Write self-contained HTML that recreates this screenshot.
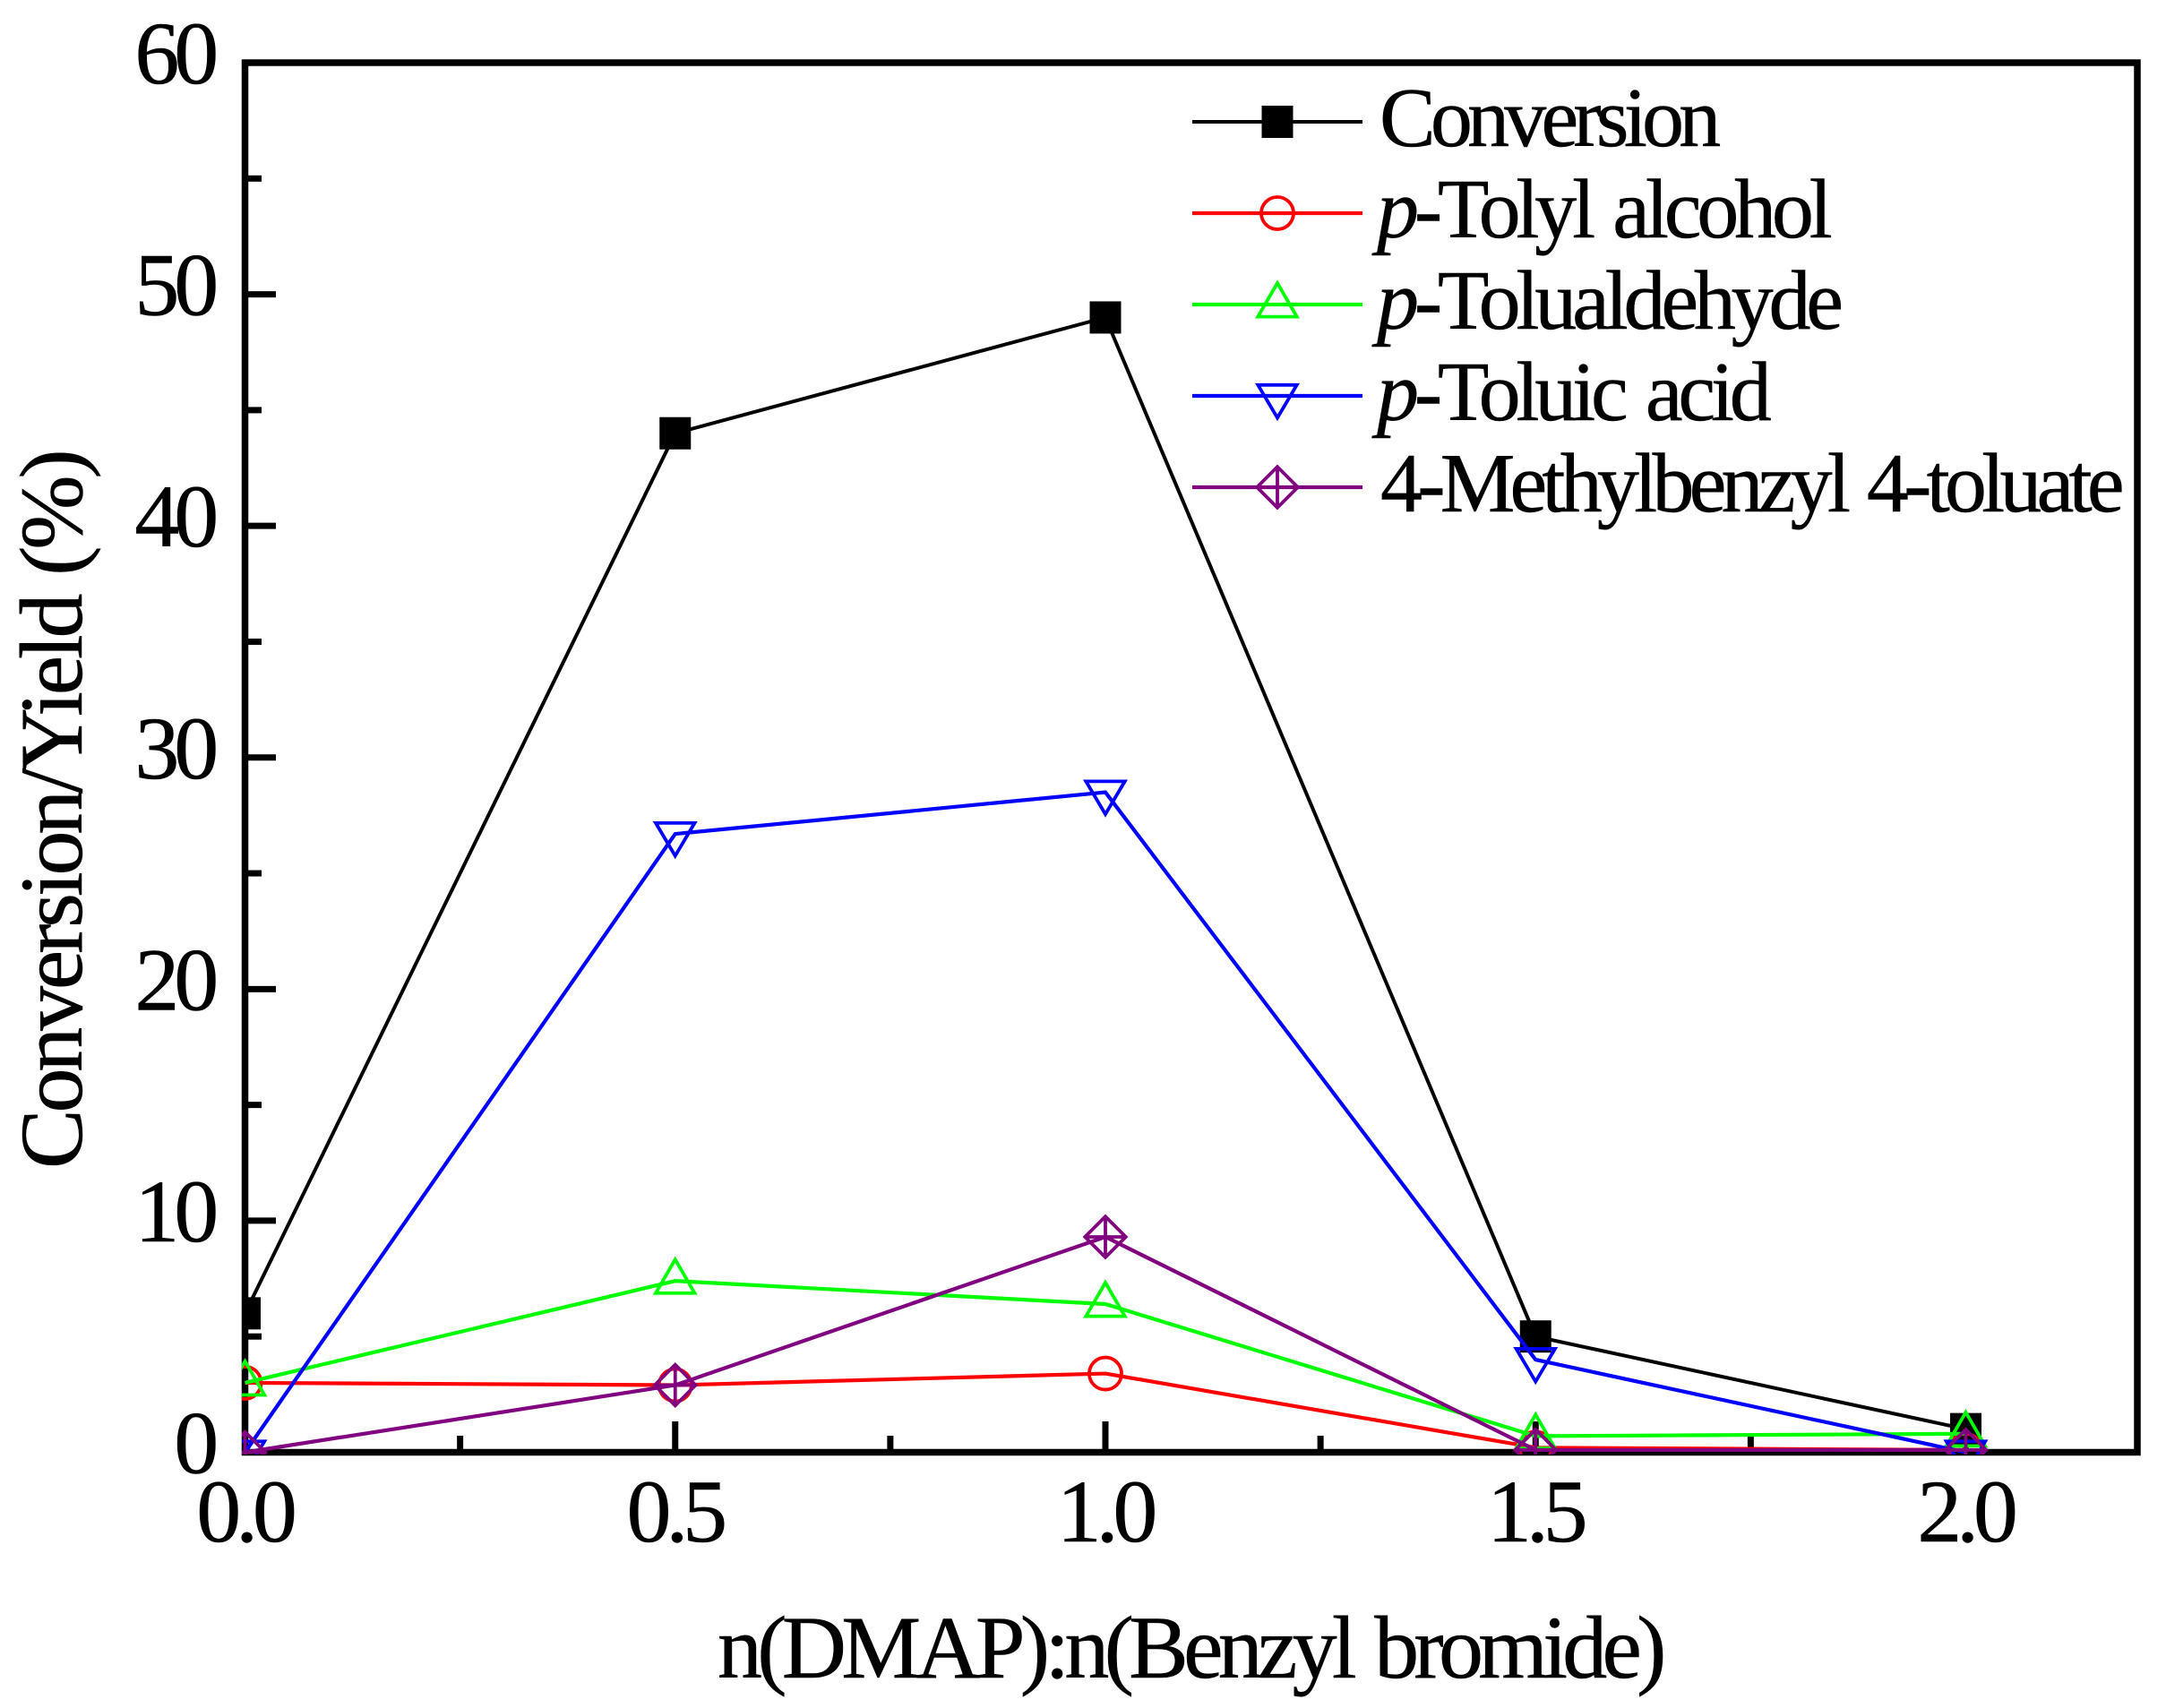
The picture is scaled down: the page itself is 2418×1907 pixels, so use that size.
<!DOCTYPE html>
<html lang="en">
<head>
<meta charset="utf-8">
<title>Conversion and yield chart</title>
<style>
html,body{margin:0;padding:0;background:#fff;}
svg{display:block;}
text{font-family:"Liberation Serif",serif;fill:#000;stroke:#000;stroke-width:0.5px;}
.tick{font-size:100px;letter-spacing:-6.2px;}
.title{font-size:100px;}
.leg{font-size:94px;letter-spacing:-5.8px;word-spacing:6px;}
.leg-p{letter-spacing:-5.2px;}
</style>
</head>
<body>
<svg id="chart" xmlns="http://www.w3.org/2000/svg" width="2418" height="1907" viewBox="0 0 2418 1907">
  <rect x="0" y="0" width="2418" height="1907" fill="#fff"/>
  <defs><clipPath id="plot-clip"><rect x="270" y="66" width="2119" height="1558"/></clipPath></defs>
  <rect x="273.5" y="70" width="2112.5" height="1551.5" fill="none" stroke="#000" stroke-width="7.5"/>
  <g id="ticks"></g>
  <g id="series" clip-path="url(#plot-clip)"></g>
  <text class="title" x="801" y="1873" style="letter-spacing:-5.75px;word-spacing:6px">n(DMAP):n(Benzyl bromide)</text>
  <text class="title" transform="translate(91,1305) rotate(-90)" style="letter-spacing:-4.2px;word-spacing:3px">Conversion/Yield (%)</text>
  <g id="legend">
    <text class="leg" x="1540" y="163">Conversion</text>
    <text class="leg leg-p" x="1537" y="265"><tspan font-style="italic">p</tspan>-Tolyl alcohol</text>
    <text class="leg leg-p" x="1537" y="367"><tspan font-style="italic">p</tspan>-Tolualdehyde</text>
    <text class="leg leg-p" x="1537" y="469"><tspan font-style="italic">p</tspan>-Toluic acid</text>
    <text class="leg" x="1541" y="571">4-Methylbenzyl 4-toluate</text>
  </g>
</svg>
<script>
const categories = [0, 0.5, 1.0, 1.5, 2.0];
const conversion = [6, 44, 49, 5, 1];
const tolylAlcohol = [3, 2.9, 3.4, 0.2, 0.1];
const tolualdehyde = [3, 7.4, 6.4, 0.7, 0.8];
const toluicAcid = [0, 26.7, 28.5, 4, 0];
const methylbenzylToluate = [0, 2.9, 9.3, 0.1, 0.1];
const xTickLabels = ['0.0', '0.5', '1.0', '1.5', '2.0'];
const xMinorTicks = [0.25, 0.75, 1.25, 1.75];
const yTickLabels = ['0', '10', '20', '30', '40', '50', '60'];
const yMinorTicks = [5, 15, 25, 35, 45, 55];

const NS = 'http://www.w3.org/2000/svg';
function xPos(v) { return 273.5 + v * 960.5; }
function yPos(v) { return 1621.5 - v * 25.858; }
function mk(parent, tag, attrs) {
  const el = document.createElementNS(NS, tag);
  for (const k in attrs) el.setAttribute(k, attrs[k]);
  parent.appendChild(el);
  return el;
}

const ticks = document.getElementById('ticks');
xTickLabels.forEach(function (label) {
  const x = xPos(Number(label));
  const t = mk(ticks, 'line', { x1: x, x2: x, y1: 1618, y2: 1587, stroke: '#000', 'stroke-width': 7 });
  
  
  const l = mk(ticks, 'text', { x: x - 1, y: 1721, 'text-anchor': 'middle', class: 'tick' });
  l.textContent = label;
  
  
});
xMinorTicks.forEach(function (v) {
  const x = xPos(v);
  const t = mk(ticks, 'line', { x1: x, x2: x, y1: 1618, y2: 1603, stroke: '#000', 'stroke-width': 7 });
  
  
});
yTickLabels.forEach(function (label) {
  const y = yPos(Number(label));
  const t = mk(ticks, 'line', { x1: 277, x2: 308, y1: y, y2: y, stroke: '#000', 'stroke-width': 7 });
  
  
  const l = mk(ticks, 'text', { x: 238, y: y + 23, 'text-anchor': 'end', class: 'tick' });
  l.textContent = label;
  
  
});
yMinorTicks.forEach(function (v) {
  const y = yPos(v);
  const t = mk(ticks, 'line', { x1: 277, x2: 292, y1: y, y2: y, stroke: '#000', 'stroke-width': 7 });
  
  
});

function drawMarker(parent, shape, color, cx, cy) {
  const s = { fill: 'none', stroke: color, 'stroke-width': 3.8 };
  let el;
  if (shape === 'square') {
    el = mk(parent, 'rect', { x: cx - 17.5, y: cy - 18, width: 35, height: 36, fill: color });
  } else if (shape === 'circle') {
    el = mk(parent, 'circle', Object.assign({ cx: cx, cy: cy, r: 18 }, s));
  } else if (shape === 'up') {
    el = mk(parent, 'path', Object.assign({ d: 'M' + cx + ' ' + (cy - 24) + 'L' + (cx + 21.7) + ' ' + (cy + 13.6) + 'L' + (cx - 21.7) + ' ' + (cy + 13.6) + 'Z' }, s));
  } else if (shape === 'down') {
    el = mk(parent, 'path', Object.assign({ d: 'M' + cx + ' ' + (cy + 24.5) + 'L' + (cx + 21.7) + ' ' + (cy - 12.2) + 'L' + (cx - 21.7) + ' ' + (cy - 12.2) + 'Z' }, s));
  } else {
    el = mk(parent, 'path', Object.assign({ d: 'M' + cx + ' ' + (cy - 22.8) + 'L' + (cx + 22.8) + ' ' + cy + 'L' + cx + ' ' + (cy + 22.8) + 'L' + (cx - 22.8) + ' ' + cy + 'ZM' + cx + ' ' + (cy - 22.8) + 'V' + (cy + 22.8) + 'M' + (cx - 22.8) + ' ' + cy + 'H' + (cx + 22.8) }, s));
  }
  return el;
}

const seriesGroup = document.getElementById('series');
const legendGroup = document.getElementById('legend');

function drawSeries(key, values, color, shape, legendY, lineWidth) {
  const g = mk(seriesGroup, 'g', {});
  
  
  const line = mk(g, 'polyline', {
    points: values.map(function (v, i) { return xPos(categories[i]) + ',' + yPos(v); }).join(' '),
    fill: 'none', stroke: color, 'stroke-width': lineWidth, 'stroke-linejoin': 'miter'
  });
  
  
  values.forEach(function (v, i) {
    const m = drawMarker(g, shape, color, xPos(categories[i]), yPos(v));
    
    
  });
  const ll = mk(legendGroup, 'line', { x1: 1331, x2: 1521, y1: legendY, y2: legendY, stroke: color, 'stroke-width': lineWidth });
  
  
  const lm = drawMarker(legendGroup, shape, color, 1426, legendY);
  
  
}

drawSeries('conversion', conversion, '#000000', 'square', 136, 4);
drawSeries('tolyl-alcohol', tolylAlcohol, '#ff0000', 'circle', 238, 4.2);
drawSeries('tolualdehyde', tolualdehyde, '#00ff00', 'up', 340, 4.2);
drawSeries('toluic-acid', toluicAcid, '#0000ff', 'down', 442, 4.2);
drawSeries('methylbenzyl-toluate', methylbenzylToluate, '#800080', 'diamond', 544, 4.2);
</script>
</body>
</html>
